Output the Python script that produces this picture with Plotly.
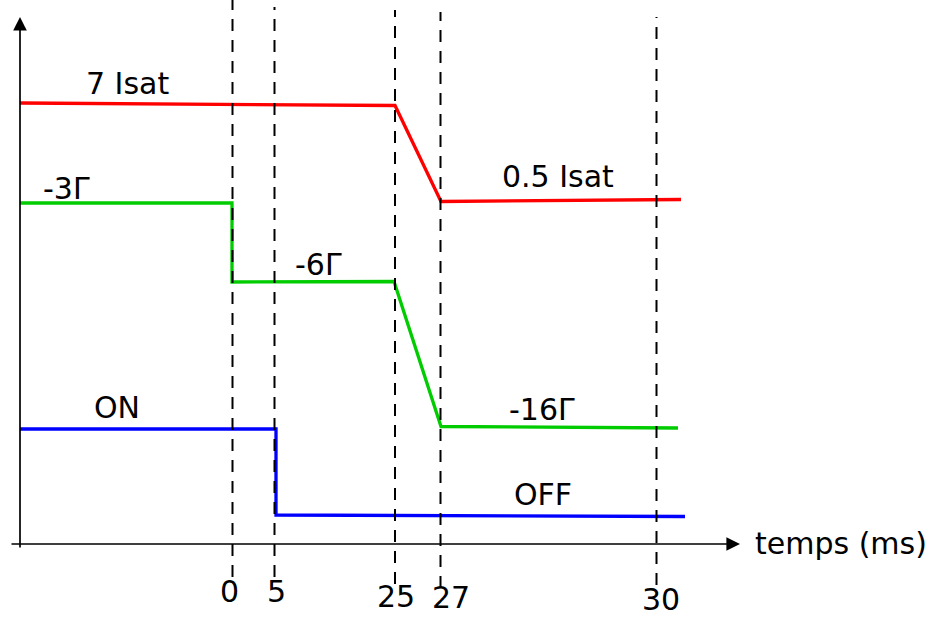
import plotly.graph_objects as go

# Schematic time axis (positions in schematic units, labels in ms)
tick_labels = ["0", "5", "25", "27", "30"]
tick_pos = [212.5, 254.5, 375, 420.5, 636.5]

# Intensity (red)
red_x = [0, 375, 421, 661]
red_y = [442, 439.5, 343.5, 345.5]
# Detuning (green)
green_x = [0, 212, 212, 374, 421, 658]
green_y = [342, 342, 263, 263.5, 118.5, 117]
# Magnetic field (blue)
blue_x = [0, 256, 256, 665]
blue_y = [116, 116, 30, 28.5]

labels = ["7 Isat", "0.5 Isat", "-3Γ", "-6Γ", "ON", "-16Γ", "OFF"]
label_x = [107.5, 537.5, 46.5, 298.5, 96.5, 522, 523]
label_y = [462, 369, 357, 281, 138, 136, 51]

FONT = "DejaVu Sans"

fig = go.Figure()
for xs, ys, col in [(red_x, red_y, "#ff0000"), (green_x, green_y, "#00cc00"), (blue_x, blue_y, "#0000ff")]:
    fig.add_trace(go.Scatter(x=xs, y=ys, mode="lines", line=dict(color=col, width=3.3),
                             hoverinfo="skip", showlegend=False))

# dashed time markers
dash_top = [545, 538, 535, 533, 528]
dash_bot = [-32, -32, -39, -43, -40]
for xp, t, b in zip(tick_pos, dash_top, dash_bot):
    fig.add_shape(type="line", xref="x", yref="y", x0=xp, x1=xp, y0=b, y1=t,
                  line=dict(color="black", width=2, dash="12px,9px"))

annotations = []
# axes with arrows
annotations.append(dict(x=0, y=528, ax=0, ay=-4, xref="x", yref="y", axref="x", ayref="y",
                        text="", showarrow=True, arrowhead=2, arrowsize=1.6, arrowwidth=1.7,
                        arrowcolor="black", font=dict(size=1)))
annotations.append(dict(x=720, y=1, ax=-10, ay=1, xref="x", yref="y", axref="x", ayref="y",
                        text="", showarrow=True, arrowhead=2, arrowsize=1.6, arrowwidth=1.7,
                        arrowcolor="black", font=dict(size=1)))
annotations.append(dict(x=733, y=2, xref="x", yref="y", text="temps (ms)", showarrow=False,
                        xanchor="left", yanchor="middle", font=dict(family=FONT, size=30, color="black")))

tick_lab_x = [209, 256, 376, 431, 641]
tick_lab_y = [-46, -46, -51, -52, -54]
for t, xx, yy in zip(tick_labels, tick_lab_x, tick_lab_y):
    annotations.append(dict(x=xx, y=yy, xref="x", yref="y", text=t, showarrow=False,
                            xanchor="center", yanchor="middle",
                            font=dict(family=FONT, size=30, color="black")))
for t, xx, yy in zip(labels, label_x, label_y):
    annotations.append(dict(x=xx, y=yy, xref="x", yref="y", text=t, showarrow=False,
                            xanchor="center", yanchor="middle",
                            font=dict(family=FONT, size=30, color="black")))

fig.update_layout(
    width=932, height=617, margin=dict(l=0, r=0, t=0, b=0),
    paper_bgcolor="white", plot_bgcolor="white",
    xaxis=dict(range=[-20, 912], visible=False, fixedrange=True),
    yaxis=dict(range=[-72, 545], visible=False, fixedrange=True),
    annotations=annotations, showlegend=False,
)
fig.write_html("out.html", config={"displayModeBar": False},
               post_script="document.body.style.margin='0';document.body.style.overflow='hidden';")
